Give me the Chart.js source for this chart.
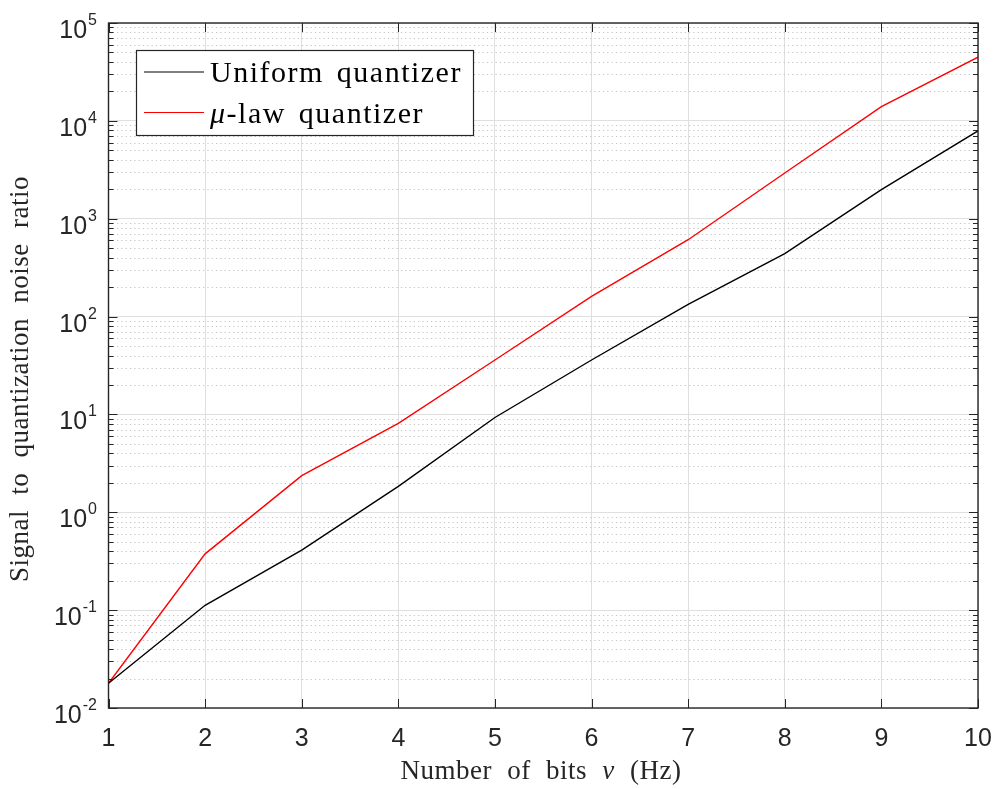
<!DOCTYPE html>
<html>
<head>
<meta charset="utf-8">
<script src="https://cdn.jsdelivr.net/npm/chart.js@4"></script>
<style>
  html, body { margin: 0; padding: 0; background: #fff; }
  #snrChart { display: block; }
</style>
</head>
<body>
<canvas id="snrChart" width="996" height="789"></canvas>
<script>
// values
const bits = [1, 2, 3, 4, 5, 6, 7, 8, 9, 10];
const uniformSnr = [0.0179, 0.112, 0.41, 1.84, 9.3, 36, 133, 440, 1980, 7900];
const muLawSnr = [0.0179, 0.376, 2.37, 8.1, 36, 161, 610, 2930, 14000, 44700];
const yExponents = [-2, -1, 0, 1, 2, 3, 4, 5];
const minorSteps = [2, 3, 4, 5, 6, 7, 8, 9];

const axisColor = '#262626';
const sansFont = '"Liberation Sans", Arial, sans-serif';
const serifFont = '"Liberation Serif", "Times New Roman", serif';

// draws a string with an italic greek letter at the given spot (mixed styles)
function drawMixed(ctx, parts, x, y, size, align) {
    const widths = parts.map(p => {
        ctx.font = (p.italic ? 'italic ' : '') + size + 'px ' + serifFont;
        return ctx.measureText(p.text).width;
    });
    const total = widths.reduce((a, b) => a + b, 0);
    let cx = align === 'center' ? x - total / 2 : x;
    ctx.textAlign = 'left';
    parts.forEach((p, i) => {
        ctx.font = (p.italic ? 'italic ' : '') + size + 'px ' + serifFont;
        ctx.fillText(p.text, cx, y);
        cx += widths[i];
    });
}

const matlabLook = {
    id: 'matlabLook',
    beforeDatasetsDraw(chart) {
        const ctx = chart.ctx, area = chart.chartArea, y = chart.scales.y;
        ctx.save();
        ctx.strokeStyle = '#c4c4c4';
        ctx.lineWidth = 1;
        ctx.setLineDash([1.2, 3.1]);
        yExponents.slice(0, -1).forEach(e => {
            minorSteps.forEach(m => {
                const py = Math.round(y.getPixelForValue(m * Math.pow(10, e))) + 0.5;
                ctx.beginPath();
                ctx.moveTo(area.left, py);
                ctx.lineTo(area.right, py);
                ctx.stroke();
            });
        });
        ctx.restore();
    },
    afterDatasetsDraw(chart) {
        const ctx = chart.ctx, area = chart.chartArea;
        const x = chart.scales.x, y = chart.scales.y;
        ctx.save();
        ctx.strokeStyle = axisColor;
        ctx.lineWidth = 1;
        // inward ticks
        ctx.beginPath();
        bits.forEach(b => {
            const px = Math.round(x.getPixelForValue(b)) + 0.5;
            ctx.moveTo(px, area.bottom); ctx.lineTo(px, area.bottom - 9);
            ctx.moveTo(px, area.top); ctx.lineTo(px, area.top + 9);
        });
        yExponents.forEach((e, i) => {
            const py = Math.round(y.getPixelForValue(Math.pow(10, e))) + 0.5;
            ctx.moveTo(area.left, py); ctx.lineTo(area.left + 9, py);
            ctx.moveTo(area.right, py); ctx.lineTo(area.right - 9, py);
            if (i < yExponents.length - 1) {
                minorSteps.forEach(m => {
                    const pm = Math.round(y.getPixelForValue(m * Math.pow(10, e))) + 0.5;
                    ctx.moveTo(area.left, pm); ctx.lineTo(area.left + 5, pm);
                    ctx.moveTo(area.right, pm); ctx.lineTo(area.right - 5, pm);
                });
            }
        });
        ctx.stroke();
        // axes box
        ctx.lineWidth = 1.4;
        ctx.strokeRect(area.left, area.top, area.right - area.left, area.bottom - area.top);
        ctx.restore();
    },
    afterDraw(chart) {
        const ctx = chart.ctx, y = chart.scales.y;
        ctx.save();
        ctx.fillStyle = axisColor;
        // y tick labels 10^n
        yExponents.forEach(e => {
            const py = y.getPixelForValue(Math.pow(10, e));
            const expText = e < 0 ? '-' + Math.abs(e) : String(e);
            ctx.font = '16px ' + sansFont;
            ctx.textAlign = 'left';
            ctx.textBaseline = 'alphabetic';
            const ew = ctx.measureText(expText).width;
            const ex = 97 - ew;
            ctx.fillText(expText, ex, py + 2);
            ctx.font = '25px ' + sansFont;
            ctx.textAlign = 'right';
            ctx.fillText('10', ex - 1, py + 15);
        });

        // axis titles
        ctx.fillStyle = '#262626';
        ctx.textBaseline = 'alphabetic';
        ctx.letterSpacing = '0.5px';
        ctx.wordSpacing = '8px';
        drawMixed(ctx, [
            { text: 'Number of bits ' },
            { text: '\u03BD', italic: true },
            { text: ' (Hz)' }
        ], 541, 779, 27, 'center');
        ctx.save();
        ctx.translate(28, 379);
        ctx.rotate(-Math.PI / 2);
        drawMixed(ctx, [{ text: 'Signal to quantization noise ratio' }], 0, 0, 27, 'center');
        ctx.restore();

        // legend box
        const lx = 136.5, ly = 50.5, lw = 337, lh = 85;
        ctx.letterSpacing = '0px';
        ctx.wordSpacing = '0px';
        ctx.fillStyle = '#fff';
        ctx.fillRect(lx, ly, lw, lh);
        ctx.strokeStyle = axisColor;
        ctx.lineWidth = 1.2;
        ctx.strokeRect(lx, ly, lw, lh);
        const rows = [
            { ds: chart.data.datasets[0], lineY: 72, base: 82 },
            { ds: chart.data.datasets[1], lineY: 112.5, base: 123 }
        ];
        rows.forEach((r, i) => {
            ctx.strokeStyle = r.ds.borderColor;
            ctx.lineWidth = 1.2;
            ctx.beginPath();
            ctx.moveTo(144, r.lineY);
            ctx.lineTo(204, r.lineY);
            ctx.stroke();
            ctx.fillStyle = '#000';
            ctx.letterSpacing = '1.5px';
            ctx.wordSpacing = '4px';
            if (i === 0) {
                drawMixed(ctx, [{ text: r.ds.label }], 210, r.base, 30, 'left');
            } else {
                drawMixed(ctx, [
                    { text: '\u03BC', italic: true },
                    { text: r.ds.label.slice(1) }
                ], 210, r.base, 30, 'left');
            }
        });
        ctx.restore();
    }
};

const ctx = document.getElementById('snrChart').getContext('2d');
window.snrChart = new Chart(ctx, {
    type: 'line',
    data: {
        datasets: [{
            label: 'Uniform quantizer',
            data: bits.map((b, i) => ({ x: b, y: uniformSnr[i] })),
            borderColor: '#000000',
            backgroundColor: '#000000',
            borderWidth: 1.4,
            pointRadius: 0,
            tension: 0,
            fill: false
        }, {
            label: '\u03BC-law quantizer',
            data: bits.map((b, i) => ({ x: b, y: muLawSnr[i] })),
            borderColor: '#ff0000',
            backgroundColor: '#ff0000',
            borderWidth: 1.4,
            pointRadius: 0,
            tension: 0,
            fill: false
        }]
    },
    options: {
        responsive: false,
        animation: false,
        layout: { padding: { top: 23, right: 18, left: 0, bottom: 0 } },
        plugins: {
            legend: { display: false },
            tooltip: { enabled: false }
        },
        scales: {
            x: {
                type: 'linear',
                min: 1,
                max: 10,
                afterBuildTicks: scale => { scale.ticks = bits.map(v => ({ value: v })); },
                afterFit: scale => {
                    scale.height = 81;
                    scale.paddingLeft = 0;
                    scale.paddingRight = 0;
                },
                ticks: {
                    color: axisColor,
                    font: { family: sansFont, size: 25 },
                    padding: 16,
                    maxRotation: 0,
                    autoSkip: false
                },
                grid: { color: '#dfdfdf', lineWidth: 1, drawTicks: false },
                border: { display: false }
            },
            y: {
                type: 'logarithmic',
                min: 0.01,
                max: 100000,
                afterBuildTicks: scale => { scale.ticks = yExponents.map(e => ({ value: Math.pow(10, e) })); },
                afterFit: scale => { scale.width = 108.5; },
                ticks: { display: false },
                grid: { color: '#dfdfdf', lineWidth: 1, drawTicks: false },
                border: { display: false }
            }
        }
    },
    plugins: [matlabLook]
});
</script>
</body>
</html>
